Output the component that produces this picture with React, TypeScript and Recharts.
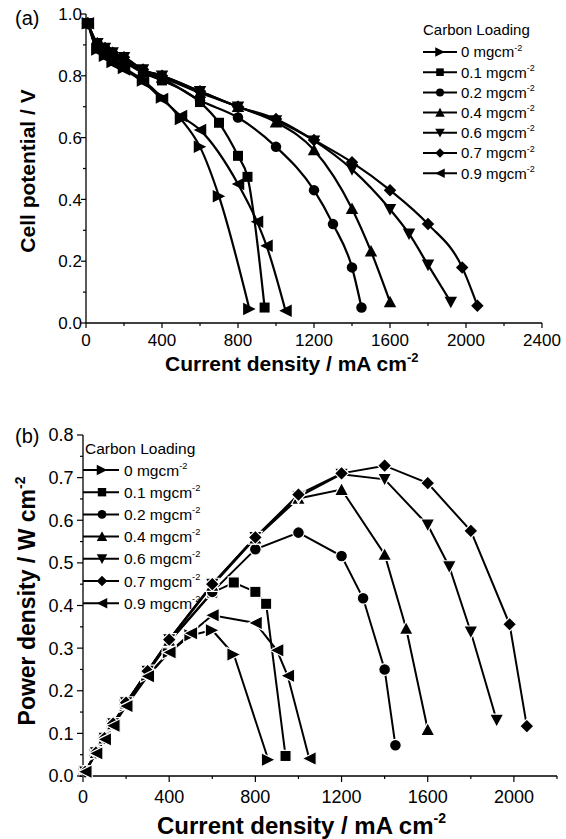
import React from 'react';
import { LineChart, Line, XAxis, YAxis } from 'recharts';

// ---------- data ----------
const loadings = ['0', '0.1', '0.2', '0.4', '0.6', '0.7', '0.9'];
const shapes = ['right', 'square', 'circle', 'up', 'down', 'diamond', 'left'];

const current0 = [10, 60, 100, 140, 200, 300, 400, 500, 600, 700, 860];
const voltage0 = [0.97, 0.885, 0.865, 0.845, 0.825, 0.785, 0.73, 0.66, 0.57, 0.41, 0.045];
const power0 = [0.01, 0.053, 0.087, 0.119, 0.166, 0.237, 0.29, 0.33, 0.342, 0.285, 0.038];

const current01 = [10, 60, 100, 140, 200, 300, 400, 600, 700, 800, 850, 940];
const voltage01 = [0.97, 0.895, 0.88, 0.865, 0.845, 0.81, 0.785, 0.715, 0.648, 0.541, 0.473, 0.05];
const power01 = [0.01, 0.054, 0.088, 0.121, 0.169, 0.243, 0.314, 0.43, 0.454, 0.432, 0.404, 0.047];

const current02 = [10, 60, 100, 140, 200, 300, 400, 600, 800, 1000, 1200, 1300, 1400, 1450];
const voltage02 = [0.97, 0.9, 0.88, 0.87, 0.85, 0.81, 0.79, 0.72, 0.665, 0.57, 0.43, 0.32, 0.18, 0.05];
const power02 = [0.01, 0.054, 0.088, 0.122, 0.17, 0.243, 0.316, 0.432, 0.532, 0.571, 0.516, 0.417, 0.25, 0.072];

const current04 = [10, 60, 100, 140, 200, 300, 400, 600, 800, 1000, 1200, 1400, 1500, 1600];
const voltage04 = [0.97, 0.9, 0.885, 0.87, 0.855, 0.815, 0.795, 0.745, 0.7, 0.65, 0.56, 0.37, 0.232, 0.068];
const power04 = [0.01, 0.055, 0.089, 0.122, 0.171, 0.245, 0.318, 0.447, 0.558, 0.651, 0.672, 0.52, 0.346, 0.109];

const current06 = [10, 60, 100, 140, 200, 300, 400, 600, 800, 1000, 1200, 1400, 1600, 1700, 1800, 1920];
const voltage06 = [0.97, 0.905, 0.89, 0.875, 0.86, 0.82, 0.8, 0.75, 0.7, 0.655, 0.59, 0.497, 0.368, 0.289, 0.188, 0.068];
const power06 = [0.01, 0.055, 0.089, 0.123, 0.172, 0.246, 0.32, 0.45, 0.56, 0.655, 0.708, 0.696, 0.589, 0.491, 0.338, 0.131];

const current07 = [10, 60, 100, 140, 200, 300, 400, 600, 800, 1000, 1200, 1400, 1600, 1800, 1980, 2060];
const voltage07 = [0.97, 0.905, 0.89, 0.875, 0.86, 0.82, 0.8, 0.75, 0.7, 0.66, 0.592, 0.52, 0.43, 0.32, 0.18, 0.056];
const power07 = [0.01, 0.055, 0.089, 0.123, 0.172, 0.246, 0.32, 0.45, 0.56, 0.66, 0.71, 0.728, 0.687, 0.575, 0.356, 0.117];

const current09 = [10, 60, 100, 140, 200, 300, 400, 500, 600, 800, 900, 950, 1050];
const voltage09 = [0.97, 0.88, 0.86, 0.84, 0.82, 0.78, 0.725, 0.67, 0.625, 0.45, 0.328, 0.25, 0.04];
const power09 = [0.01, 0.053, 0.086, 0.118, 0.164, 0.234, 0.29, 0.335, 0.377, 0.359, 0.295, 0.235, 0.041];

const topXTicks = [0, 200, 400, 600, 800, 1000, 1200, 1400, 1600, 1800, 2000, 2200, 2400];
const topXLabels = [0, 400, 800, 1200, 1600, 2000, 2400];
const topYTicks = [0, 0.1, 0.2, 0.3, 0.4, 0.5, 0.6, 0.7, 0.8, 0.9, 1.0];
const topYLabels = [0, 0.2, 0.4, 0.6, 0.8, 1.0];

const botXTicks = [0, 200, 400, 600, 800, 1000, 1200, 1400, 1600, 1800, 2000, 2200];
const botXLabels = [0, 400, 800, 1200, 1600, 2000];
const botYTicks = [0, 0.05, 0.1, 0.15, 0.2, 0.25, 0.3, 0.35, 0.4, 0.45, 0.5, 0.55, 0.6, 0.65, 0.7, 0.75, 0.8];
const botYLabels = [0, 0.1, 0.2, 0.3, 0.4, 0.5, 0.6, 0.7, 0.8];

const currents = [current0, current01, current02, current04, current06, current07, current09];
const voltages = [voltage0, voltage01, voltage02, voltage04, voltage06, voltage07, voltage09];
const powers = [power0, power01, power02, power04, power06, power07, power09];

const zip = (xs: number[], ys: number[]) => xs.map((x, i) => ({ x, y: ys[i] }));
const topSeries = currents.map((c, i) => zip(c, voltages[i]));
const botSeries = currents.map((c, i) => zip(c, powers[i]));

// ---------- drawing helpers ----------
const FONT = '"Liberation Sans", Arial, Helvetica, sans-serif';

function markerShape(shape: string, cx: number, cy: number, s: number, key: any, halo = false) {
  const h = s / 2;
  const common: any = { fill: '#000', stroke: halo ? '#fff' : 'none', strokeWidth: halo ? 1.2 : 0, key };
  switch (shape) {
    case 'right':
      return <polygon {...common} points={`${cx - h},${cy - h} ${cx + h},${cy} ${cx - h},${cy + h}`} />;
    case 'left':
      return <polygon {...common} points={`${cx + h},${cy - h} ${cx - h},${cy} ${cx + h},${cy + h}`} />;
    case 'up':
      return <polygon {...common} points={`${cx},${cy - h} ${cx + h},${cy + h * 0.85} ${cx - h},${cy + h * 0.85}`} />;
    case 'down':
      return <polygon {...common} points={`${cx},${cy + h} ${cx + h},${cy - h * 0.85} ${cx - h},${cy - h * 0.85}`} />;
    case 'square':
      return <rect {...common} x={cx - s * 0.4} y={cy - s * 0.4} width={s * 0.8} height={s * 0.8} />;
    case 'circle':
      return <circle {...common} cx={cx} cy={cy} r={s * 0.42} />;
    case 'diamond':
    default:
      return <polygon {...common} points={`${cx},${cy - h} ${cx + h},${cy} ${cx},${cy + h} ${cx - h},${cy}`} />;
  }
}

const XTick = (props: any) => {
  const { x, y, payload, labels, fontSize, labelDy, majorLen, minorLen } = props;
  const v = payload.value;
  const major = labels.includes(v);
  return (
    <g>
      <line x1={x} y1={y} x2={x} y2={y + (major ? majorLen : minorLen)} stroke="#000" strokeWidth={1.2} />
      {major && (
        <text x={x} y={y + labelDy} textAnchor="middle" fontSize={fontSize} fontFamily={FONT} fill="#000">
          {v}
        </text>
      )}
    </g>
  );
};

const YTick = (props: any) => {
  const { x, y, payload, labels, fontSize, labelDx, majorLen, minorLen } = props;
  const v = payload.value;
  const major = labels.some((l: number) => Math.abs(l - v) < 1e-9);
  return (
    <g>
      <line x1={x} y1={y} x2={x - (major ? majorLen : minorLen)} y2={y} stroke="#000" strokeWidth={1.2} />
      {major && (
        <text x={x - labelDx} y={y} dy="0.36em" textAnchor="end" fontSize={fontSize} fontFamily={FONT} fill="#000">
          {v.toFixed(1)}
        </text>
      )}
    </g>
  );
};

function Legend(props: { x: number; titleY: number; rowY: number; gap: number; lineX1: number; lineX2: number; markX: number; textX: number; fontSize: number; markSize: number }) {
  const { x, titleY, rowY, gap, lineX1, lineX2, markX, textX, fontSize, markSize } = props;
  return (
    <g>
      <text x={x} y={titleY} dy="0.36em" fontSize={fontSize} fontFamily={FONT} fill="#000">Carbon Loading</text>
      {loadings.map((l, i) => {
        const cy = rowY + gap * i;
        return (
          <g key={l}>
            <line x1={lineX1} x2={lineX2} y1={cy} y2={cy} stroke="#000" strokeWidth={2} />
            {markerShape(shapes[i], markX, cy, markSize, 'm' + i)}
            <text x={textX} y={cy} dy="0.36em" fontSize={fontSize} fontFamily={FONT} fill="#000">
              {l} mgcm
              <tspan fontSize={fontSize * 0.6} dy={-fontSize * 0.45}>-2</tspan>
            </text>
          </g>
        );
      })}
    </g>
  );
}

function TopChart() {
  return (
    <div style={{ position: 'absolute', left: 0, top: 0, width: 566, height: 420 }}>
      <LineChart width={566} height={420} margin={{ top: 14, right: 24, bottom: 0, left: 0 }}>
        <XAxis
          xAxisId={0}
          dataKey="x"
          type="number"
          domain={[0, 2400]}
          ticks={topXTicks}
          interval={0}
          height={97}
          tickSize={0}
          tickMargin={0}
          tickLine={false}
          axisLine={{ stroke: '#000', strokeWidth: 1.3 }}
          tick={<XTick labels={topXLabels} fontSize={17} labelDy={23} majorLen={5} minorLen={3} />}
          label={{
            content: () => (
              <text x={165} y={371} fontSize={21} fontWeight="bold" fontFamily={FONT} fill="#000">
                Current density / mA cm<tspan fontSize={13} dy={-9}>-2</tspan>
              </text>
            ),
          }}
        />
        <XAxis xAxisId="top" orientation="top" dataKey="x" type="number" domain={[0, 2400]} height={0} tick={false} tickLine={false} axisLine={{ stroke: '#000', strokeWidth: 1.3 }} />
        <YAxis
          yAxisId={0}
          type="number"
          domain={[0, 1]}
          ticks={topYTicks}
          interval={0}
          width={86}
          tickSize={0}
          tickMargin={0}
          tickLine={false}
          axisLine={{ stroke: '#000', strokeWidth: 1.3 }}
          tick={<YTick labels={topYLabels} fontSize={17} labelDx={4} majorLen={5} minorLen={3} />}
          label={{
            content: () => (
              <text x={34.5} y={171} textAnchor="middle" transform="rotate(-90, 34.5, 171)" fontSize={21} fontWeight="bold" fontFamily={FONT} fill="#000">
                Cell potential / V
              </text>
            ),
          }}
        />
        <YAxis yAxisId="right" orientation="right" type="number" domain={[0, 1]} width={0} tick={false} tickLine={false} axisLine={{ stroke: '#000', strokeWidth: 1.3 }} />
        {topSeries.map((d, i) => (
          <Line
            key={loadings[i]}
            data={d}
            dataKey="y"
            type="monotone"
            stroke="#000"
            strokeWidth={2.2}
            isAnimationActive={false}
            activeDot={false}
            dot={(p: any) => markerShape(shapes[i], p.cx, p.cy, 12.5, p.index)}
          />
        ))}
      </LineChart>
      <svg width={566} height={420} style={{ position: 'absolute', left: 0, top: 0, pointerEvents: 'none' }}>
        <text x={15} y={25} fontSize={20} fontFamily={FONT} fill="#000">(a)</text>
        <Legend x={423} titleY={30} rowY={52} gap={20.2} lineX1={423} lineX2={457} markX={440} textX={461} fontSize={15} markSize={9.5} />
      </svg>
    </div>
  );
}

function BottomChart() {
  return (
    <div style={{ position: 'absolute', left: 0, top: 420, width: 566, height: 419 }}>
      <LineChart width={566} height={419} margin={{ top: 15, right: 9, bottom: 0, left: 0 }}>
        <XAxis
          xAxisId={0}
          dataKey="x"
          type="number"
          domain={[0, 2200]}
          ticks={botXTicks}
          interval={0}
          height={63}
          tickSize={0}
          tickMargin={0}
          tickLine={false}
          axisLine={{ stroke: '#000', strokeWidth: 1.3 }}
          tick={<XTick labels={botXLabels} fontSize={18} labelDy={26.5} majorLen={6} minorLen={3} />}
          label={{
            content: () => (
              <text x={157} y={414} fontSize={24} fontWeight="bold" fontFamily={FONT} fill="#000">
                Current density / mA cm<tspan fontSize={14} dy={-11}>-2</tspan>
              </text>
            ),
          }}
        />
        <XAxis xAxisId="top" orientation="top" dataKey="x" type="number" domain={[0, 2200]} height={0} tick={false} tickLine={false} axisLine={{ stroke: '#000', strokeWidth: 1.3 }} />
        <YAxis
          yAxisId={0}
          type="number"
          domain={[0, 0.8]}
          ticks={botYTicks}
          interval={0}
          width={83}
          tickSize={0}
          tickMargin={0}
          tickLine={false}
          axisLine={{ stroke: '#000', strokeWidth: 1.3 }}
          tick={<YTick labels={botYLabels} fontSize={18} labelDx={9.5} majorLen={6} minorLen={3} />}
          label={{
            content: () => (
              <text x={35} y={181} textAnchor="middle" transform="rotate(-90, 35, 181)" fontSize={23} fontWeight="bold" fontFamily={FONT} fill="#000">
                Power density / W cm<tspan fontSize={14} dy={-10}>-2</tspan>
              </text>
            ),
          }}
        />
        <YAxis yAxisId="right" orientation="right" type="number" domain={[0, 0.8]} width={0} tick={false} tickLine={false} axisLine={{ stroke: '#000', strokeWidth: 1.3 }} />
        {botSeries.map((d, i) => (
          <Line
            key={loadings[i]}
            data={d}
            dataKey="y"
            type="linear"
            stroke="#000"
            strokeWidth={2}
            isAnimationActive={false}
            activeDot={false}
            dot={(p: any) => markerShape(shapes[i], p.cx, p.cy, 14, p.index, true)}
          />
        ))}
      </LineChart>
      <svg width={566} height={419} style={{ position: 'absolute', left: 0, top: 0, pointerEvents: 'none' }}>
        <text x={15} y={23} fontSize={20} fontFamily={FONT} fill="#000">(b)</text>
        <Legend x={85} titleY={28} rowY={50} gap={22.2} lineX1={83} lineX2={119} markX={102} textX={124} fontSize={15.5} markSize={10.5} />
      </svg>
    </div>
  );
}

export default function App() {
  return (
    <div style={{ position: 'absolute', left: 0, top: 0, width: 566, height: 839, background: '#fff' }}>
      <TopChart />
      <BottomChart />
    </div>
  );
}
